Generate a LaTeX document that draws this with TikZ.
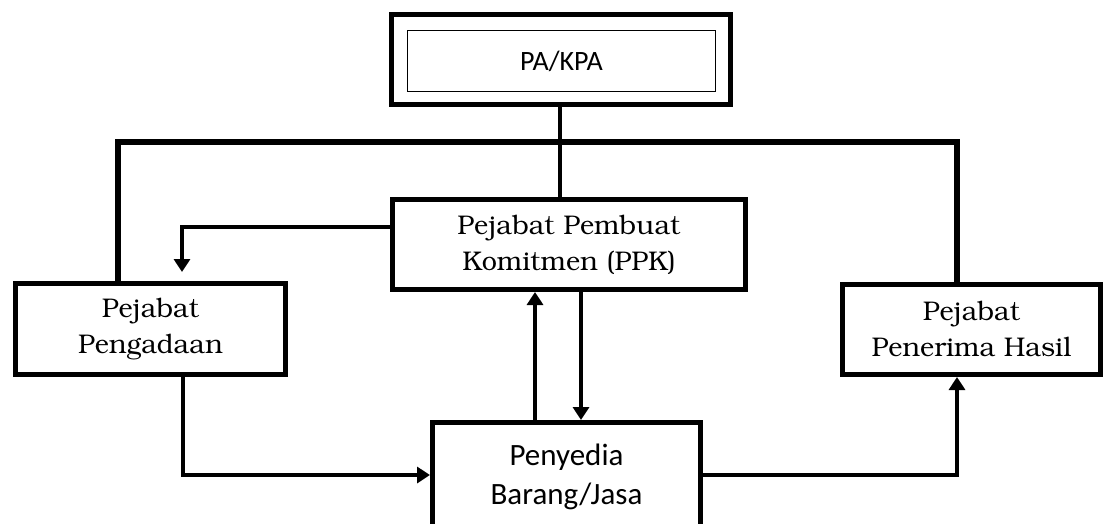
\documentclass[tikz,border=0pt]{standalone}
\usepackage[T1,TU]{fontenc}
\usepackage{fontspec}
\newfontfamily\carlito{Carlito}
\newcommand\bkfont{\fontencoding{T1}\fontfamily{pbk}\selectfont}
\usetikzlibrary{arrows.meta}
\begin{document}
\begin{tikzpicture}[x=1pt,y=-1pt,
  box/.style={draw, line width=5pt, inner sep=0pt, align=center},
  sertext/.style={font=\bkfont\fontsize{27}{36}\selectfont},
  santext/.style={font=\carlito\fontsize{28}{38}\selectfont},
  bigsan/.style={font=\carlito\fontsize{31}{39}\selectfont},
  bus/.style={line width=6pt, line join=miter},
  link/.style={line width=4.5pt},
  arr/.style={line width=4pt, line join=miter, -{Triangle[length=13pt,width=16pt]}},
]
\useasboundingbox (0,0) rectangle (1105,523);
% boxes
\node[box, minimum width=339pt, minimum height=90pt] (paout) at (561,59.5) {};
\node[draw, line width=1.5pt, minimum width=308pt, minimum height=61pt, santext] (pa) at (561.5,61) {PA/KPA};
\node[box, sertext, minimum width=353pt, minimum height=90pt] (ppk) at (569,244.5) {Pejabat Pembuat\\Komitmen (PPK)};
\node[box, sertext, minimum width=270pt, minimum height=91pt] (peng) at (150.5,329) {Pejabat\\Pengadaan};
\node[box, sertext, minimum width=258pt, minimum height=90pt] (pen) at (971.5,329.5) {Pejabat\\Penerima Hasil};
% penyedia (open at bottom)
\coordinate (sbl) at (432.5,528);
\coordinate (stl) at (432.5,422.5);
\coordinate (str) at (700.5,422.5);
\coordinate (sbr) at (700.5,528);
\draw[line width=5pt, line join=miter] (sbl) -- (stl) -- (str) -- (sbr);
\node[bigsan, align=center, inner sep=0pt] (sedia) at (566.5,477) {Penyedia\\Barang/Jasa};
% helper coordinates
\coordinate (vx) at (560,0);
\coordinate (bl) at (118,142);
\coordinate (br) at (957,142);
\coordinate (a1) at (182,227);
\coordinate (u) at (535,0);
\coordinate (d) at (581,0);
\coordinate (stop) at (0,420);
\coordinate (pg) at (183,0);
\coordinate (sleft) at (430,475);
\coordinate (sright) at (703,475);
\coordinate (pr) at (957,0);
% connectors
\draw[link] (paout.south -| vx) -- (ppk.north -| vx);
\draw[bus] (peng.north -| bl) -- (bl) -- (br) -- (pen.north -| br);
\draw[arr, shorten >=9pt] (ppk.west |- a1) -| (peng.north -| a1);
\draw[arr] (stop -| u) -- (ppk.south -| u);
\draw[arr] (ppk.south -| d) -- (stop -| d);
\draw[arr] (peng.south -| pg) |- (sleft);
\draw[arr] (sright) -| (pen.south -| pr);
\end{tikzpicture}
\end{document}
